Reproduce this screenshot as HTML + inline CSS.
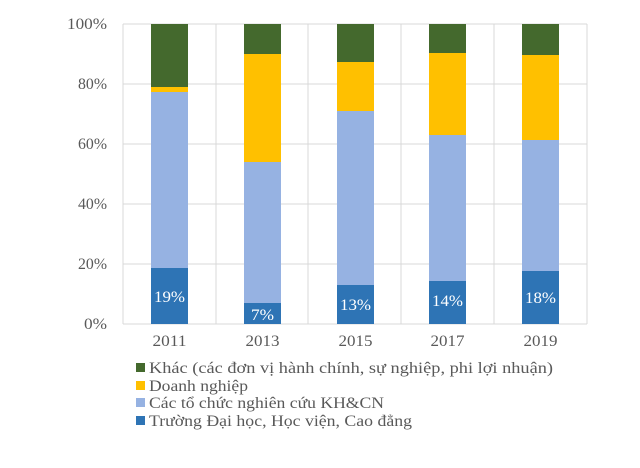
<!DOCTYPE html>
<html><head><meta charset="utf-8"><style>
body{margin:0;background:#fff;}
svg text{font-family:"Liberation Serif",serif;fill:#595959;}
</style></head><body>
<svg width="640" height="463" xmlns="http://www.w3.org/2000/svg">
<g stroke="#d9d9d9" stroke-width="1">
<line x1="123" y1="24" x2="587" y2="24"/><line x1="123" y1="84" x2="587" y2="84"/>
<line x1="123" y1="144" x2="587" y2="144"/><line x1="123" y1="204" x2="587" y2="204"/>
<line x1="123" y1="264" x2="587" y2="264"/><line x1="123" y1="324" x2="587" y2="324"/>
<line x1="123" y1="24" x2="123" y2="324"/><line x1="216" y1="24" x2="216" y2="324"/>
<line x1="308" y1="24" x2="308" y2="324"/><line x1="401" y1="24" x2="401" y2="324"/>
<line x1="494" y1="24" x2="494" y2="324"/><line x1="587" y1="24" x2="587" y2="324"/>
</g>
<g font-size="16" text-anchor="end">
<text x="107" y="29" textLength="40" lengthAdjust="spacingAndGlyphs">100%</text>
<text x="107" y="89" textLength="29" lengthAdjust="spacingAndGlyphs">80%</text>
<text x="107" y="149" textLength="29" lengthAdjust="spacingAndGlyphs">60%</text>
<text x="107" y="209" textLength="29" lengthAdjust="spacingAndGlyphs">40%</text>
<text x="107" y="269" textLength="29" lengthAdjust="spacingAndGlyphs">20%</text>
<text x="107" y="329" textLength="23" lengthAdjust="spacingAndGlyphs">0%</text>
</g>
<g>
<rect x="151" y="24" width="37" height="63" fill="#44692d"/>
<rect x="151" y="87" width="37" height="5" fill="#ffc000"/>
<rect x="151" y="92" width="37" height="176" fill="#96b2e2"/>
<rect x="151" y="268" width="37" height="56" fill="#2e74b5"/>
<rect x="244" y="24" width="37" height="30" fill="#44692d"/>
<rect x="244" y="54" width="37" height="108" fill="#ffc000"/>
<rect x="244" y="162" width="37" height="141" fill="#96b2e2"/>
<rect x="244" y="303" width="37" height="21" fill="#2e74b5"/>
<rect x="337" y="24" width="37" height="38" fill="#44692d"/>
<rect x="337" y="62" width="37" height="49" fill="#ffc000"/>
<rect x="337" y="111" width="37" height="174" fill="#96b2e2"/>
<rect x="337" y="285" width="37" height="39" fill="#2e74b5"/>
<rect x="429" y="24" width="37" height="29" fill="#44692d"/>
<rect x="429" y="53" width="37" height="82" fill="#ffc000"/>
<rect x="429" y="135" width="37" height="146" fill="#96b2e2"/>
<rect x="429" y="281" width="37" height="43" fill="#2e74b5"/>
<rect x="522" y="24" width="37" height="31" fill="#44692d"/>
<rect x="522" y="55" width="37" height="85" fill="#ffc000"/>
<rect x="522" y="140" width="37" height="131" fill="#96b2e2"/>
<rect x="522" y="271" width="37" height="53" fill="#2e74b5"/>
</g>
<g font-size="16" text-anchor="middle">
<text x="169.5" y="302" style="fill:#fff" textLength="31" lengthAdjust="spacingAndGlyphs">19%</text>
<text x="262.5" y="320" style="fill:#fff" textLength="23" lengthAdjust="spacingAndGlyphs">7%</text>
<text x="355.5" y="310" style="fill:#fff" textLength="31" lengthAdjust="spacingAndGlyphs">13%</text>
<text x="447.5" y="306" style="fill:#fff" textLength="31" lengthAdjust="spacingAndGlyphs">14%</text>
<text x="540.5" y="303" style="fill:#fff" textLength="31" lengthAdjust="spacingAndGlyphs">18%</text>
</g>
<g font-size="16" text-anchor="middle">
<text x="169.5" y="346" textLength="34" lengthAdjust="spacingAndGlyphs">2011</text>
<text x="262.5" y="346" textLength="34" lengthAdjust="spacingAndGlyphs">2013</text>
<text x="355.5" y="346" textLength="34" lengthAdjust="spacingAndGlyphs">2015</text>
<text x="447.5" y="346" textLength="34" lengthAdjust="spacingAndGlyphs">2017</text>
<text x="540.5" y="346" textLength="34" lengthAdjust="spacingAndGlyphs">2019</text>
</g>
<rect x="136" y="363" width="9" height="9" fill="#44692d"/>
<rect x="136" y="381" width="9" height="9" fill="#ffc000"/>
<rect x="136" y="398" width="9" height="9" fill="#96b2e2"/>
<rect x="136" y="416" width="9" height="9" fill="#2e74b5"/>
<g font-size="16">
<text x="149" y="373" textLength="404" lengthAdjust="spacingAndGlyphs">Khác (các đơn vị hành chính, sự nghiệp, phi lợi nhuận)</text>
<text x="149" y="391" textLength="99" lengthAdjust="spacingAndGlyphs">Doanh nghiệp</text>
<text x="149" y="408" textLength="235" lengthAdjust="spacingAndGlyphs">Các tổ chức nghiên cứu KH&amp;CN</text>
<text x="149" y="426" textLength="263" lengthAdjust="spacingAndGlyphs">Trường Đại học, Học viện, Cao đẳng</text>
</g>
</svg>
</body></html>
